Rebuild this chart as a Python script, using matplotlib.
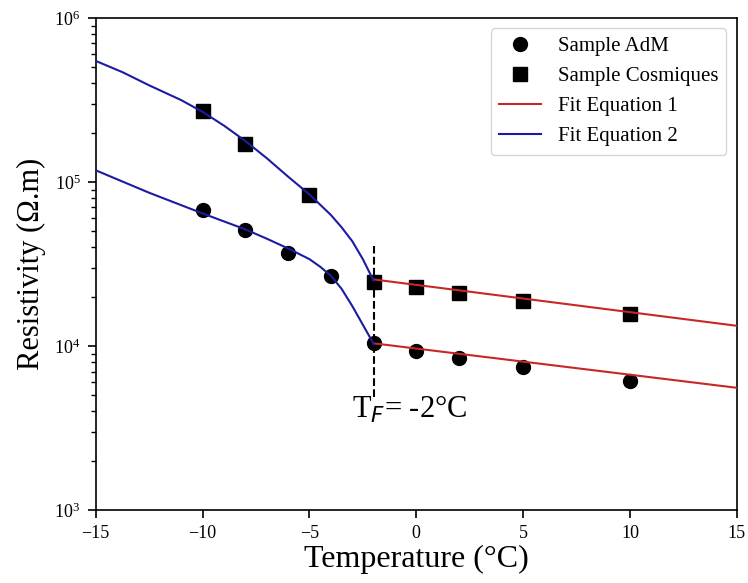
import matplotlib
matplotlib.use('Agg')
import matplotlib.pyplot as plt

plt.rcParams['font.family'] = ['Liberation Serif', 'DejaVu Sans']

# measured samples
temp_adm = [-10, -8, -6, -4, -2, 0, 2, 5, 10]
rho_adm = [6.75e4, 5.1e4, 3.7e4, 2.67e4, 1.05e4, 9.4e3, 8.5e3, 7.5e3, 6.1e3]
temp_cos = [-10, -8, -5, -2, 0, 2, 5, 10]
rho_cos = [2.72e5, 1.71e5, 8.3e4, 2.45e4, 2.28e4, 2.1e4, 1.88e4, 1.58e4]

# fit equation 1 (above freezing), read at the ends
fit1_t = [-2, 15]
fit1_cos = [2.55e4, 1.33e4]
fit1_adm = [1.04e4, 5.57e3]

# fit equation 2 (below freezing)
fit2_t_cos = [-15, -13.75, -12.5, -11, -10, -9, -8, -7, -6, -5, -4, -3.5, -3, -2.5, -2]
fit2_cos = [5.48e5, 4.68e5, 3.89e5, 3.16e5, 2.68e5, 2.21e5, 1.78e5, 1.40e5,
            1.08e5, 8.41e4, 6.31e4, 5.31e4, 4.37e4, 3.39e4, 2.51e4]
fit2_t_adm = [-15, -12.5, -10, -8, -7, -6, -5, -4.5, -4, -3.5, -3, -2.5, -2]
fit2_adm = [1.18e5, 8.61e4, 6.44e4, 5.15e4, 4.52e4, 3.94e4, 3.39e4, 3.05e4,
            2.69e4, 2.24e4, 1.76e4, 1.35e4, 1.035e4]

t_freeze = -2
dash_range = [4.9e3, 4.05e4]

fig = plt.figure(figsize=(7.48, 5.83), dpi=100)
ax = fig.add_axes([0.128, 0.125, 0.857, 0.844])

red = '#c62828'
blue = '#1c1ca2'

ax.plot(temp_adm, rho_adm, 'o', color='black', ms=10, label='Sample AdM', zorder=2)
ax.plot(temp_cos, rho_cos, 's', color='black', ms=10, label='Sample Cosmiques', zorder=2)
ax.plot(fit1_t, fit1_cos, color=red, lw=1.5, label='Fit Equation 1', zorder=3)
ax.plot(fit1_t, fit1_adm, color=red, lw=1.5, zorder=3)
ax.plot(fit2_t_cos, fit2_cos, color=blue, lw=1.5, label='Fit Equation 2', zorder=3)
ax.plot(fit2_t_adm, fit2_adm, color=blue, lw=1.5, zorder=3)

ax.plot([t_freeze, t_freeze], dash_range, '--', color='black', lw=1.5, zorder=1)
ax.text(-3.0, 4.1e3, 'T$_F$= -2°C', fontsize=22, va='center', ha='left')

ax.set_yscale('log')
ax.set_xlim(-15, 15)
ax.set_ylim(1e3, 1e6)
ax.set_xlabel('Temperature (°C)', fontsize=23, labelpad=2)
ax.set_ylabel('Resistivity (Ω.m)', fontsize=22, labelpad=6)
ax.tick_params(which='major', labelsize=13, length=6, width=1.2, pad=5)
ax.tick_params(which='minor', length=3.5, width=1)
for s in ax.spines.values():
    s.set_linewidth(1.2)
ax.legend(loc='upper right', fontsize=15)

fig.savefig('out.png', dpi=100)
